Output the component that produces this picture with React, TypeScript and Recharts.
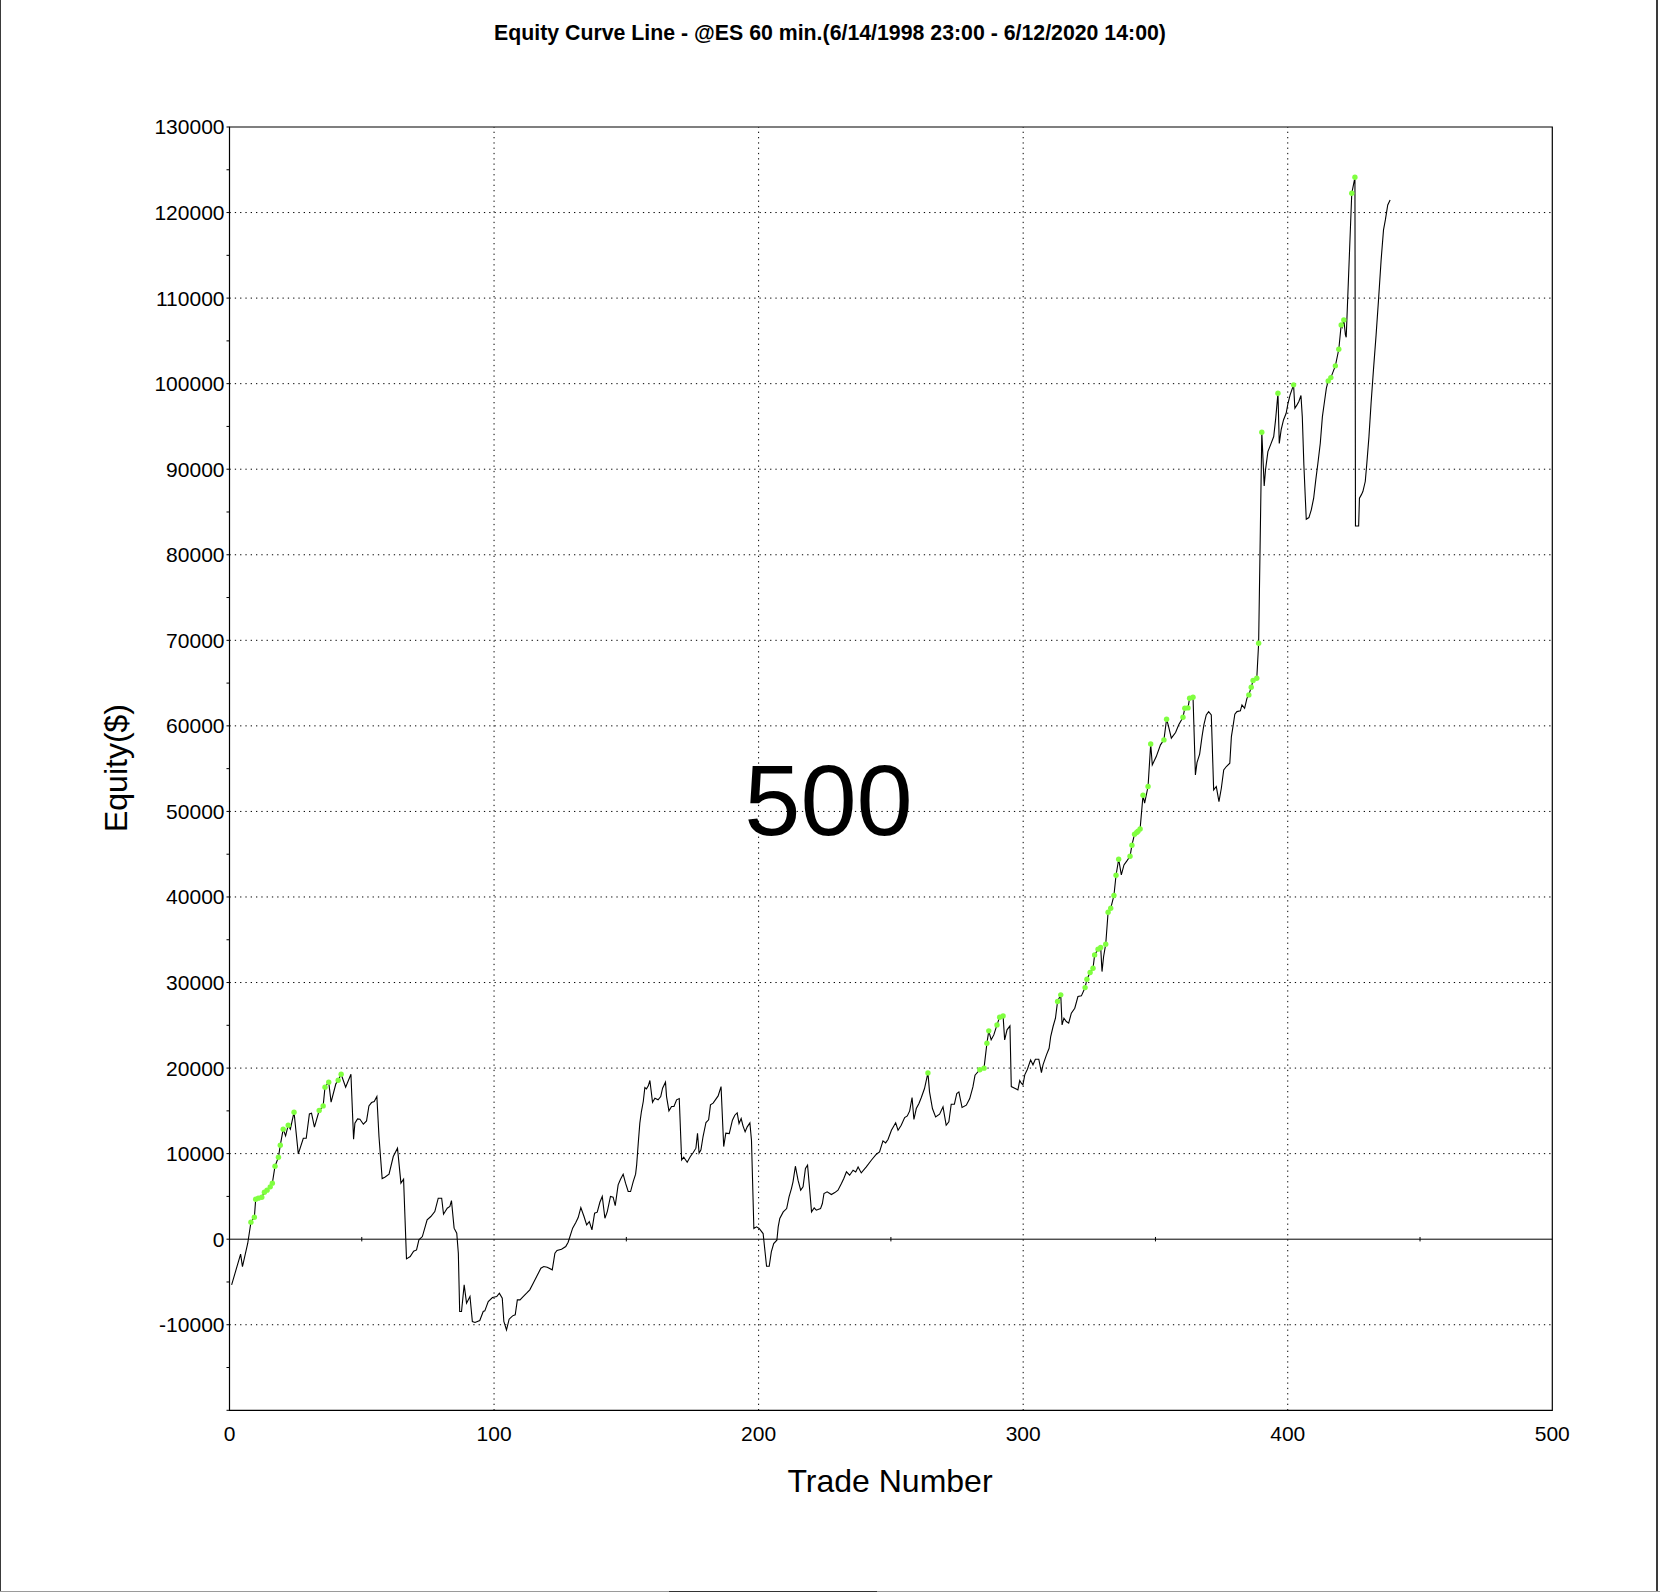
import {
  ComposedChart,
  Line,
  ReferenceArea,
  ReferenceLine,
  Scatter,
  XAxis,
  YAxis,
} from 'recharts'

// trade number / closed equity
const trades = [
  0.8, 4.2, 4.9, 6.9, 8.1, 9.4, 9.9, 10.9, 12.2, 13.2, 14.2, 15.4, 16.2, 17.2, 18.5, 19.2, 20.3, 21.2, 22.2, 23.0,
  24.4, 26.0, 27.9, 29.0, 30.2, 31.0, 32.1, 33.9, 35.4, 36.1, 37.5, 38.4, 40.2, 41.1, 42.2, 43.9, 45.9, 46.9, 47.4, 48.4,
  49.3, 50.6, 51.8, 52.7, 53.7, 54.7, 55.7, 56.5, 57.7, 58.7, 60.3, 61.9, 63.5, 64.8, 65.8, 66.9, 68.3, 69.6, 70.7, 71.6,
  72.9, 74.7, 76.1, 77.6, 78.9, 80.2, 80.9, 82.3, 83.3, 83.9, 84.9, 85.9, 86.5, 87.0, 87.7, 88.7, 89.6, 90.9, 91.8, 92.8,
  94.6, 95.9, 96.5, 97.8, 99.4, 101.0, 102.0, 103.1, 103.7, 104.7, 105.7, 107.0, 108.0, 108.8, 109.8, 111.0, 112.3, 113.5, 114.8, 116.1,
  117.7, 118.8, 120.1, 122.0, 123.0, 123.8, 125.5, 127.1, 128.0, 129.7, 130.9, 131.8, 132.8, 134.0, 135.0, 136.0, 137.0, 138.0, 139.0, 140.0,
  140.9, 141.9, 142.8, 144.0, 145.0, 145.8, 146.9, 147.8, 148.8, 149.7, 150.7, 151.6, 152.6, 153.5, 153.9, 154.5, 155.1, 155.7, 156.4, 157.0,
  157.6, 158.3, 158.9, 159.9, 160.8, 162.0, 163.0, 163.7, 164.8, 165.2, 166.1, 167.1, 168.0, 169.0, 170.0, 170.9, 171.7, 173.0, 174.2, 175.3,
  176.3, 176.9, 177.5, 178.2, 179.0, 180.1, 181.1, 181.8, 182.8, 184.7, 185.8, 186.8, 187.6, 188.9, 190.1, 191.0, 191.9, 192.6, 193.4, 194.1,
  194.9, 195.7, 196.7, 197.3, 198.2, 199.2, 200.2, 201.7, 203.0, 204.0, 204.8, 205.7, 206.9, 207.4, 208.0, 209.3, 210.6, 211.5, 212.4, 213.0,
  213.9, 214.9, 215.9, 216.8, 217.7, 218.5, 219.1, 220.0, 221.0, 221.8, 223.4, 224.1, 224.7, 225.9, 227.5, 228.8, 230.0, 231.3, 232.2, 233.2,
  234.4, 235.7, 236.7, 237.6, 238.8, 240.7, 242.6, 244.5, 245.7, 247.0, 248.0, 248.9, 250.2, 251.8, 252.7, 253.9, 255.2, 256.2, 257.1, 258.0,
  258.7, 259.6, 260.6, 261.5, 262.7, 264.0, 264.6, 265.7, 266.9, 268.4, 269.7, 270.9, 271.9, 272.8, 274.0, 274.9, 275.7, 276.9, 278.5, 279.8,
  281.0, 281.8, 283.6, 285.2, 286.3, 287.0, 287.9, 288.9, 290.1, 291.1, 292.4, 293.0, 293.9, 295.0, 295.5, 296.8, 298.0, 298.7, 299.3, 299.9,
  300.6, 301.6, 302.8, 303.7, 304.6, 305.9, 306.9, 307.5, 308.8, 309.8, 310.4, 311.3, 312.2, 313.0, 314.2, 314.7, 315.4, 316.3, 317.2, 318.2,
  319.5, 320.7, 322.0, 323.4, 324.1, 325.3, 326.4, 327.0, 328.3, 329.3, 329.8, 330.4, 331.2, 332.1, 333.1, 334.3, 335.1, 336.1, 337.1, 338.1,
  339.2, 340.4, 341.1, 342.1, 342.9, 343.4, 344.2, 345.3, 345.9, 347.2, 348.2, 348.8, 350.3, 351.9, 353.2, 354.2, 354.9, 356.0, 357.6, 358.8,
  360.4, 361.1, 362.3, 362.9, 364.2, 365.1, 365.7, 366.7, 367.6, 368.3, 369.2, 370.1, 371.1, 372.0, 373.0, 374.0, 374.9, 375.8, 376.8, 378.1,
  378.7, 379.3, 380.0, 380.8, 382.1, 382.7, 383.7, 384.6, 385.3, 386.2, 386.9, 388.3, 389.0, 390.2, 391.1, 391.6, 392.5, 393.5, 394.7, 395.4,
  396.3, 396.8, 397.5, 398.4, 399.4, 400.1, 400.9, 402.2, 402.7, 403.5, 404.2, 405.0, 405.5, 406.1, 406.7, 407.0, 408.0, 408.9, 409.8, 410.6,
  411.4, 412.3, 413.1, 413.8, 414.6, 415.3, 416.3, 418.0, 419.3, 420.2, 420.6, 421.2, 421.8, 422.1, 424.2, 425.4, 425.6, 426.8, 427.1, 427.8,
  428.4, 429.3, 429.9, 430.7, 431.5, 432.4, 433.4, 434.4, 435.3, 436.2, 436.9, 437.8, 438.7,
]

const equity = [
  -5340, -1750, -3200, -470, 1990, 2570, 4675, 4800, 4900, 5490, 5730, 6120, 6550, 8530, 9580, 10990, 12860, 12080, 13320, 12860,
  14840, 9970, 11800, 11800, 14650, 14730, 13090, 15040, 15580, 17770, 18350, 16010, 18160, 18580, 19280, 17770, 19280, 11690, 13560, 14060,
  14030, 13440, 13830, 15580, 15970, 16090, 16670, 12000, 7090, 7250, 7600, 9660, 10640, 6550, 7010, -2300, -2030, -1400, -1250, -80,
  310, 2260, 2650, 3230, 4790, 4790, 2920, 3620, 3820, 4520, 1290, 700, -1640, -8450, -8450, -5340, -7480, -6700, -9620, -9740,
  -9510, -8450, -8380, -7290, -6820, -6700, -6310, -6900, -9620, -10600, -9350, -8960, -8840, -7090, -7090, -6700, -6310, -5920, -5140, -4360,
  -3390, -3190, -3270, -3580, -1640, -1320, -1170, -860, -350, 1290, 1950, 2530, 3700, 2650, 1680, 2060, 1090, 3040, 3160, 4320,
  4990, 2450, 3230, 4990, 4910, 3930, 6350, 7010, 7600, 6550, 5570, 5570, 6740, 7600, 8690, 11220, 13560, 14920, 16090, 17730,
  17570, 17920, 18550, 16010, 16480, 16290, 16670, 17650, 18350, 16670, 15000, 15510, 15510, 16290, 16440, 9270, 9580, 9000, 9660, 10130,
  10640, 12390, 10050, 10440, 12000, 13640, 13950, 15700, 15900, 16750, 17840, 10830, 12390, 12350, 13910, 14490, 14770, 13520, 14100, 13250,
  12550, 13130, 13600, 11570, 1250, 1440, 1250, 660, -3160, -3160, -1480, -510, -120, 1440, 2420, 3190, 3580, 4950, 5920, 6700,
  8530, 6900, 5730, 6120, 8260, 8650, 6510, 3190, 3660, 3390, 3580, 4170, 5340, 5530, 5220, 5450, 5730, 6510, 7090, 7870,
  7480, 8060, 7870, 8450, 7750, 8450, 9230, 9930, 10210, 11490, 11260, 11650, 12740, 13600, 12740, 13320, 14220, 14410, 15000, 16560,
  13990, 15270, 15860, 16560, 17610, 19440, 17220, 15270, 14300, 14610, 15470, 13320, 13710, 15780, 15780, 17030, 17220, 15390, 15660, 16440,
  17800, 19170, 19810, 19990, 22910, 24350, 23300, 23880, 25050, 25950, 26100, 23300, 24470, 24930, 17840, 17650, 17450, 18540, 18230, 18040,
  19210, 19870, 20960, 20380, 21040, 21040, 19480, 20380, 21540, 22320, 23690, 24860, 25830, 27780, 28560, 25050, 25830, 25440, 25250, 26420,
  27000, 28360, 28440, 29410, 30390, 31170, 31670, 33230, 33900, 34090, 31280, 33040, 34480, 38220, 38690, 40170, 42540, 44410, 42580, 43750,
  44220, 44760, 46050, 47340, 47530, 47690, 47960, 51890, 50960, 52910, 57890, 55440, 56410, 57780, 58360, 60780, 60000, 58560, 59220, 60120,
  61010, 62060, 62100, 63230, 63350, 54270, 55700, 56700, 58750, 60120, 61280, 61670, 61280, 52520, 52910, 51150, 52710, 54860, 55250, 55630,
  58750, 59920, 61360, 61670, 61750, 62450, 62060, 63230, 63620, 64520, 65300, 65570, 69660, 94320, 88050, 89920, 92060, 92840, 93820, 95760,
  98880, 93000, 94590, 95760, 96540, 97710, 98690, 99860, 97130, 97520, 97910, 98610, 96150, 90500, 86220, 84150, 84350, 85250, 86610, 88750,
  90700, 93030, 96150, 97710, 99470, 100320, 100710, 102080, 104020, 106870, 106590, 107450, 105700, 105420, 122250, 124120, 83370, 83370, 86610, 87000,
  87390, 88560, 90700, 93810, 97710, 101610, 105700, 110180, 114470, 117970, 119140, 120890, 121480,
]

// new equity highs (green markers)
const highTrades = [
  8.1, 9.4, 9.9, 10.9, 12.2, 13.2, 14.2, 15.4, 16.2, 17.2, 18.5, 19.2, 20.3, 22.2, 24.4, 33.9, 35.4, 36.1, 37.5, 41.1,
  42.2, 264.0, 283.6, 285.2, 286.3, 287.0, 290.1, 291.1, 292.4, 313.0, 314.2, 323.4, 324.1, 325.3, 326.4, 327.0, 328.3, 329.3, 331.2, 332.1,
  333.1, 334.3, 335.1, 336.1, 340.4, 341.1, 342.1, 342.9, 343.4, 344.2, 345.3, 347.2, 348.2, 353.2, 354.2, 360.4, 361.1, 362.3, 362.9, 364.2,
  385.3, 386.2, 386.9, 388.3, 389.0, 390.2, 396.3, 402.2, 415.3, 416.3, 418.0, 419.3, 420.2, 421.2, 424.2, 425.4,
]

const highEquity = [
  1990, 2570, 4675, 4800, 4900, 5490, 5730, 6120, 6550, 8530, 9580, 10990, 12860, 13320, 14840, 15040, 15580, 17770, 18350, 18580,
  19280, 19440, 19810, 19990, 22910, 24350, 25050, 25950, 26100, 27780, 28560, 29410, 30390, 31170, 31670, 33230, 33900, 34090, 34480, 38220,
  38690, 40170, 42540, 44410, 44760, 46050, 47340, 47530, 47690, 47960, 51890, 52910, 57890, 58360, 60780, 61010, 62060, 62100, 63230, 63350,
  63620, 64520, 65300, 65570, 69660, 94320, 98880, 99860, 100320, 100710, 102080, 104020, 106870, 107450, 122250, 124120,
]

const xTicks = [0, 100, 200, 300, 400, 500]
const xGrid = [100, 200, 300, 400]
const zeroAxisTicks = [50, 150, 250, 350, 450]
const yTicks = [
  -20000, -15000, -10000, -5000, 0, 5000, 10000, 15000, 20000, 25000, 30000, 35000, 40000, 45000, 50000, 55000,
  60000, 65000, 70000, 75000, 80000, 85000, 90000, 95000, 100000, 105000, 110000, 115000, 120000, 125000, 130000,
]
const yLabels = [
  -10000, 0, 10000, 20000, 30000, 40000, 50000, 60000, 70000, 80000, 90000, 100000, 110000, 120000, 130000,
]
const yGrid = [-10000, 10000, 20000, 30000, 40000, 50000, 60000, 70000, 80000, 90000, 100000, 110000, 120000]

const curve = trades.map((t, i) => ({ trade: t, equity: equity[i] }))
const highs = highTrades.map((t, i) => ({ trade: t, equity: highEquity[i] }))

const FONT = '"Liberation Sans", Arial, sans-serif'
const DOTS = '1.3 4'

export default function App() {
  return (
    <div style={{ position: 'relative', width: 1660, height: 1592, background: '#fff', fontFamily: FONT, color: '#000' }}>
      <style>{'body{margin:0}'}</style>

      <div
        style={{
          position: 'absolute',
          left: 0,
          top: 22.5,
          width: 1660,
          textAlign: 'center',
          fontSize: 21.3,
          lineHeight: '21.3px',
          fontWeight: 'bold',
        }}
      >
        Equity Curve Line - @ES 60 min.(6/14/1998 23:00 - 6/12/2020 14:00)
      </div>

      <ComposedChart
        width={1660}
        height={1592}
        data={curve}
        margin={{ top: 127, right: 107.7, bottom: 0, left: 0 }}
        style={{ position: 'absolute', left: 0, top: 0 }}
      >
        <XAxis
          dataKey="trade"
          type="number"
          domain={[0, 500]}
          ticks={xTicks}
          allowDataOverflow
          height={181.7}
          axisLine={false}
          tickLine={false}
          tickSize={6}
          tickMargin={10}
          tick={{ fill: '#000', fontSize: 21, fontFamily: FONT }}
        />
        <YAxis
          dataKey="equity"
          type="number"
          domain={[-20000, 130000]}
          ticks={yTicks}
          interval={0}
          allowDataOverflow
          width={229.5}
          axisLine={false}
          tickLine={{ stroke: '#000' }}
          tickSize={3}
          tickMargin={2}
          tickFormatter={(v: number) => (yLabels.includes(v) ? String(v) : '')}
          tick={{ fill: '#000', fontSize: 21, fontFamily: FONT }}
        />

        {yGrid.map((v) => (
          <ReferenceLine key={`gy-${v}`} y={v} stroke="#000" strokeWidth={1} strokeDasharray={DOTS} />
        ))}
        {xGrid.map((v) => (
          <ReferenceLine key={`gx-${v}`} x={v} stroke="#000" strokeWidth={1} strokeDasharray={DOTS} />
        ))}
        <ReferenceLine y={0} stroke="#000" strokeWidth={1} />
        {zeroAxisTicks.map((t) => (
          <ReferenceLine
            key={`zt-${t}`}
            segment={[
              { x: t, y: -260 },
              { x: t, y: 260 },
            ]}
            stroke="#000"
            strokeWidth={1}
          />
        ))}
        <ReferenceArea
          x1={0}
          x2={500}
          y1={-20000}
          y2={130000}
          fill="none"
          fillOpacity={0}
          stroke="#000"
          strokeWidth={1.2}
          ifOverflow="visible"
        />

        <Line
          dataKey="equity"
          type="linear"
          stroke="#000"
          strokeWidth={1.1}
          dot={false}
          activeDot={false}
          isAnimationActive={false}
        />
        <Scatter
          data={highs}
          dataKey="equity"
          isAnimationActive={false}
          shape={(p: any) => <circle cx={p.cx} cy={p.cy} r={2.7} fill="#80ff40" />}
        />
      </ComposedChart>

      <div
        style={{
          position: 'absolute',
          left: 828.5 - 200,
          top: 750,
          width: 400,
          textAlign: 'center',
          fontSize: 101,
          lineHeight: '101px',
        }}
      >
        500
      </div>

      <div
        style={{
          position: 'absolute',
          left: 490,
          top: 1464.5,
          width: 800,
          textAlign: 'center',
          fontSize: 32,
          lineHeight: '32px',
        }}
      >
        Trade Number
      </div>

      <div
        style={{
          position: 'absolute',
          left: 116.3 - 200,
          top: 767.6 - 16,
          width: 400,
          height: 32,
          textAlign: 'center',
          fontSize: 32,
          lineHeight: '32px',
          transform: 'rotate(-90deg)',
        }}
      >
        Equity($)
      </div>

      {/* window frame */}
      <div style={{ position: 'absolute', left: 0, top: 0, width: 1, height: 1592, background: '#3a3a3a' }} />
      <div style={{ position: 'absolute', left: 1656, top: 0, width: 1.5, height: 1592, background: '#3a3a3a' }} />
      <div style={{ position: 'absolute', left: 0, top: 1590.7, width: 1660, height: 1.3, background: '#9a9a9a' }} />
      <div style={{ position: 'absolute', left: 669, top: 1590.7, width: 208, height: 1.3, background: '#333' }} />
    </div>
  )
}
